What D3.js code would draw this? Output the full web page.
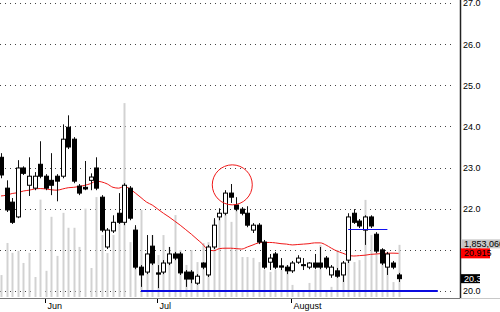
<!DOCTYPE html>
<html>
<head>
<meta charset="utf-8">
<script src="https://cdnjs.cloudflare.com/ajax/libs/d3/7.8.5/d3.min.js"></script>
<style>
    body { margin: 0; background: #fff; }
    svg { display: block; font-family: "Liberation Sans", Arial, sans-serif; }
</style>
</head>
<body>
<svg id="vis_svg"></svg>
<script>
// Data, one entry per trading day
let opens = [23.25, 22.50, 22.16, 21.80, 22.99, 22.57, 22.50, 23.08, 22.79, 22.69,
    22.79, 22.79, 23.98, 23.69, 22.55, 22.52, 22.69, 22.99, 22.28, 21.07,
    21.46, 21.89, 21.67, 22.50, 21.48, 20.58, 20.46, 21.09, 20.44, 20.46,
    20.68, 20.90, 20.90, 20.46, 20.46, 20.19, 20.68, 20.39, 21.07, 21.80,
    21.89, 22.38, 22.09, 21.99, 21.89, 21.48, 21.60, 21.19, 20.70, 20.90,
    20.61, 20.58, 20.49, 20.70, 20.64, 20.58, 20.68, 20.68, 20.80, 20.39,
    20.49, 20.39, 20.75, 21.89, 21.70, 21.48, 21.80, 21.38, 21.00, 20.58,
    20.68, 20.39];
let highs = [23.35, 22.69, 22.26, 23.18, 23.03, 23.25, 22.89, 23.64, 22.84, 23.35,
    22.84, 24.05, 24.27, 23.74, 22.60, 23.16, 22.86, 23.25, 22.33, 21.53,
    21.84, 22.38, 22.62, 22.55, 21.60, 20.63, 21.36, 21.36, 20.63, 20.75,
    21.07, 20.95, 20.95, 20.51, 20.51, 20.41, 20.70, 21.12, 21.77, 22.01,
    22.45, 22.60, 22.28, 22.04, 22.06, 21.65, 21.65, 21.24, 20.90, 20.95,
    20.80, 20.63, 20.73, 20.87, 20.80, 20.70, 20.90, 21.07, 20.85, 20.63,
    20.56, 20.73, 21.89, 21.99, 21.75, 21.84, 21.84, 21.43, 21.04, 20.95,
    20.73, 20.44];
let lows = [22.74, 21.92, 21.63, 21.77, 22.82, 22.31, 22.45, 22.74, 22.45, 22.33,
    22.18, 22.74, 23.45, 22.62, 22.33, 22.45, 22.45, 22.45, 21.43, 21.02,
    21.41, 21.63, 21.60, 21.72, 20.53, 20.10, 20.41, 20.63, 20.07, 20.41,
    20.63, 20.75, 20.39, 20.10, 20.19, 20.15, 20.53, 20.34, 21.02, 21.72,
    21.84, 22.14, 21.94, 21.84, 21.55, 21.41, 21.14, 20.53, 20.51, 20.53,
    20.51, 20.41, 20.44, 20.66, 20.51, 20.53, 20.53, 20.53, 20.53, 20.32,
    20.32, 20.22, 20.68, 21.63, 21.53, 21.12, 21.53, 20.92, 20.63, 20.39,
    20.53, 20.22];
let closes = [22.82, 21.97, 21.67, 22.99, 22.86, 22.79, 22.79, 22.79, 22.50, 22.57,
    22.67, 23.69, 23.50, 22.67, 22.38, 22.48, 22.77, 22.50, 21.48, 21.48,
    21.67, 21.67, 22.57, 21.77, 20.58, 20.39, 20.90, 20.68, 20.41, 20.68,
    20.90, 20.80, 20.44, 20.29, 20.29, 20.36, 20.58, 21.07, 21.60, 21.89,
    22.38, 22.28, 21.99, 21.89, 21.60, 21.60, 21.19, 20.58, 20.80, 20.58,
    20.58, 20.49, 20.68, 20.80, 20.62, 20.68, 20.58, 20.58, 20.58, 20.58,
    20.36, 20.68, 21.80, 21.67, 21.58, 21.80, 21.58, 20.97, 20.68, 20.90,
    20.58, 20.30];
// volume in millions of shares
let volumes = [0.78, 1.92, 1.57, 1.64, 1.21, 1.57, 0.71, 3.46, 0.93, 2.85,
    1.46, 2.99, 2.46, 2.46, 1.78, 3.14, 1.03, 3.55, 2.20, 1.56,
    2.20, 2.74, 6.89, 1.95, 2.49, 3.09, 1.42, 2.20, 1.49, 2.20,
    1.78, 2.91, 1.67, 1.14, 1.67, 1.24, 1.92, 1.95, 2.74, 2.81,
    3.38, 2.67, 3.09, 1.42, 1.42, 1.39, 1.24, 0.96, 0.89, 0.96,
    0.96, 1.14, 0.43, 0.25, 0.18, 0.50, 0.96, 1.85, 0.25, 0.36,
    1.67, 0.96, 1.92, 1.24, 1.31, 3.45, 2.20, 1.92, 1.67, 1.42,
    0.53, 1.853];
// moving average (red line)
let movingAvg = [22.31, 22.33, 22.37, 22.39, 22.43, 22.45, 22.48, 22.49, 22.48, 22.46,
    22.45, 22.48, 22.51, 22.52, 22.54, 22.57, 22.61, 22.67, 22.65, 22.60,
    22.52, 22.50, 22.54, 22.48, 22.38, 22.27, 22.16, 22.09, 21.99, 21.89,
    21.80, 21.70, 21.60, 21.49, 21.38, 21.26, 21.14, 21.00, 20.98, 21.03,
    21.04, 21.04, 21.03, 21.02, 21.07, 21.12, 21.17, 21.18, 21.18, 21.17,
    21.15, 21.14, 21.12, 21.13, 21.14, 21.15, 21.17, 21.17, 21.12, 21.04,
    20.97, 20.92, 20.87, 20.85, 20.86, 20.87, 20.89, 20.90, 20.91, 20.92,
    20.92, 20.915];

let monthLabels = ['Jun', 'Jul', 'August'];
let monthIndex = [8, 28, 52];
let priceTicks = [20, 21, 22, 23, 24, 25, 26, 27];

let lastVolume = 1853060;
let lastAvg = 20.915;
let lastClose = 20.3;

let supportLevel = 20.0;          // thick blue line
let supportSpan = [25, 78];       // day index where it starts / ends
let resistLevel = 21.5;           // short blue line
let resistSpan = [62, 69];
let circleAt = {day: 41.3, price: 22.58};

// Global Variables
let scales = {};
let config = {
    'svg': {},
    'plot': {}
};
let svg;

function visSetup() {
    config.svg.width = 500;
    config.svg.height = 312;

    config.plot.right = 460;      // price axis line
    config.plot.bottom = 298;     // date axis line
    config.plot.gridEnd = 455;

    svg = d3.select('#vis_svg')
        .attr('width', config.svg.width)
        .attr('height', config.svg.height);

    scales.x = d3.scaleLinear().domain([0, 71]).range([1, 398.6]);
    scales.y = d3.scaleLinear().domain([20, 27]).range([291, 3]);
    scales.vol = d3.scaleLinear().domain([0, 7]).range([297, 100]);
}

function visDraw() {
    let x = scales.x, y = scales.y, v = scales.vol;
    let days = d3.range(opens.length);

    // dotted grid
    svg.append('g').selectAll('line')
        .data(priceTicks)
        .join('line')
        .attr('x1', 0)
        .attr('x2', config.plot.gridEnd)
        .attr('y1', d => Math.round(y(d)) + 0.5)
        .attr('y2', d => Math.round(y(d)) + 0.5)
        .style('stroke', '#444')
        .style('stroke-dasharray', '1,4');

    // volume bars
    svg.append('g').selectAll('line')
        .data(days)
        .join('line')
        .attr('x1', d => Math.round(x(d)) + 0.5)
        .attr('x2', d => Math.round(x(d)) + 0.5)
        .attr('y1', v(0))
        .attr('y2', d => v(volumes[d]))
        .style('stroke', '#d2d2d2')
        .style('stroke-width', 2);

    // support line
    svg.append('line')
        .attr('x1', x(supportSpan[0]))
        .attr('x2', x(supportSpan[1]))
        .attr('y1', y(supportLevel))
        .attr('y2', y(supportLevel))
        .style('stroke', '#0a0ae0')
        .style('stroke-width', 2);

    // moving average
    let line = d3.line()
        .x((d, i) => x(i))
        .y(d => y(d))
        .curve(d3.curveMonotoneX);
    svg.append('path')
        .datum(movingAvg)
        .attr('d', line)
        .style('fill', 'none')
        .style('stroke', '#f01818')
        .style('stroke-width', 1);

    // candles
    let candles = svg.append('g').selectAll('g')
        .data(days)
        .join('g')
        .attr('transform', d => translate(Math.round(x(d)), 0));

    candles.append('line')
        .attr('x1', 0.5).attr('x2', 0.5)
        .attr('y1', d => y(highs[d]))
        .attr('y2', d => y(lows[d]))
        .style('stroke', '#111');

    candles.append('rect')
        .attr('x', -1.5)
        .attr('width', 4)
        .attr('y', d => y(Math.max(opens[d], closes[d])))
        .attr('height', d => Math.max(1, Math.abs(y(opens[d]) - y(closes[d]))))
        .style('fill', d => closes[d] >= opens[d] ? '#fff' : '#000')
        .style('stroke', '#000');

    // short blue line
    svg.append('line')
        .attr('x1', x(resistSpan[0]))
        .attr('x2', x(resistSpan[1]))
        .attr('y1', Math.round(y(resistLevel)) + 0.5)
        .attr('y2', Math.round(y(resistLevel)) + 0.5)
        .style('stroke', '#1010f0');

    // red circle
    svg.append('circle')
        .attr('cx', x(circleAt.day))
        .attr('cy', y(circleAt.price))
        .attr('r', 20)
        .style('fill', 'none')
        .style('stroke', '#f01818');

    // date axis
    svg.append('line')
        .attr('x1', 0).attr('x2', config.svg.width)
        .attr('y1', config.plot.bottom + 0.5).attr('y2', config.plot.bottom + 0.5)
        .style('stroke', '#c8c8c8');
    svg.append('line')
        .attr('x1', 0).attr('x2', config.plot.right)
        .attr('y1', config.plot.bottom + 0.5).attr('y2', config.plot.bottom + 0.5)
        .style('stroke', '#777');

    let months = svg.append('g').selectAll('g')
        .data(monthIndex)
        .join('g')
        .attr('transform', d => translate(Math.round(x(d)) - 0.5, config.plot.bottom));
    months.append('line')
        .attr('y1', 1).attr('y2', 5)
        .style('stroke', '#000');
    months.append('text')
        .attr('x', 2)
        .attr('y', 11)
        .style('font-size', '9px')
        .style('fill', '#000')
        .text((d, i) => monthLabels[i]);

    // price axis
    svg.append('line')
        .attr('x1', config.plot.right + 0.5).attr('x2', config.plot.right + 0.5)
        .attr('y1', 0).attr('y2', config.plot.bottom)
        .style('stroke', '#222')
        .style('stroke-width', 1.5);

    let axis = d3.axisRight(y)
        .tickValues(priceTicks)
        .tickFormat(d3.format('.1f'))
        .tickSize(0)
        .tickPadding(3);
    let axisG = svg.append('g')
        .attr('transform', translate(config.plot.right, 0))
        .call(axis);
    axisG.select('.domain').remove();
    axisG.selectAll('text')
        .style('font-size', '9px')
        .style('font-family', '"Liberation Sans", Arial, sans-serif')
        .style('fill', '#000');

    // value boxes on the axis
    let avgY = y(lastAvg);
    let boxes = [
        {label: d3.format(',')(lastVolume), top: avgY - 5 - 9, h: 9, w: 45, fill: '#c8c8c8', color: '#000'},
        {label: d3.format('.3f')(lastAvg), top: avgY - 5, h: 10, w: 29, fill: '#ff0000', color: '#000'},
        {label: d3.format('.1f')(lastClose), top: y(lastClose) - 4.5, h: 9, w: 19, fill: '#000', color: '#fff'}
    ];
    let boxG = svg.append('g').selectAll('g')
        .data(boxes)
        .join('g')
        .attr('transform', d => translate(config.plot.right + 1, d.top));
    boxG.append('rect')
        .attr('width', d => d.w)
        .attr('height', d => d.h)
        .style('fill', d => d.fill);
    boxG.append('text')
        .attr('x', 3)
        .attr('y', d => d.h / 2)
        .attr('dy', '0.35em')
        .style('font-size', '9px')
        .style('fill', d => d.color)
        .text(d => d.label);
}

// Helper functions
function translate(x, y) {
    return 'translate(' + x + ',' + y + ')';
}

visSetup();
visDraw();
</script>
</body>
</html>
